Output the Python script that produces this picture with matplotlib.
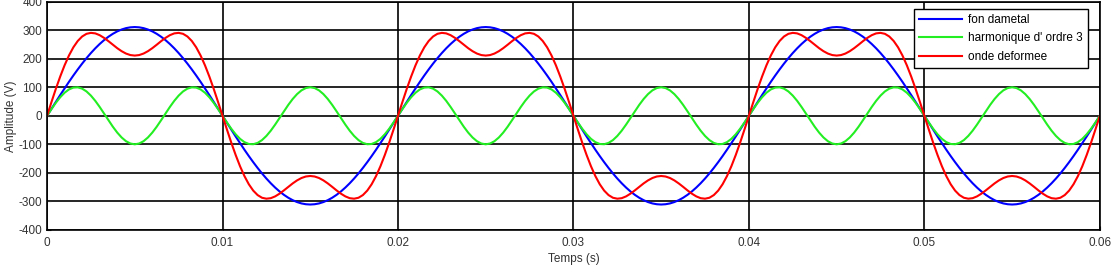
#!/usr/bin/env python3
import numpy as np
import matplotlib
matplotlib.use("Agg")
import matplotlib.pyplot as plt

PERIOD_S = 0.02
N_PERIODS = 3

fondamental = [
    0, 24.4, 48.7, 72.6, 96.1, 119.0, 141.2, 162.5, 182.8, 202.0,
    219.9, 236.5, 251.6, 265.2, 277.1, 287.3, 295.8, 302.4, 307.2, 310.0,
    311.0, 310.0, 307.2, 302.4, 295.8, 287.3, 277.1, 265.2, 251.6, 236.5,
    219.9, 202.0, 182.8, 162.5, 141.2, 119.0, 96.1, 72.6, 48.7, 24.4,
    0, -24.4, -48.7, -72.6, -96.1, -119.0, -141.2, -162.5, -182.8, -202.0,
    -219.9, -236.5, -251.6, -265.2, -277.1, -287.3, -295.8, -302.4, -307.2, -310.0,
    -311.0, -310.0, -307.2, -302.4, -295.8, -287.3, -277.1, -265.2, -251.6, -236.5,
    -219.9, -202.0, -182.8, -162.5, -141.2, -119.0, -96.1, -72.6, -48.7, -24.4,
]

harmonique3 = [
    0, 23.3, 45.4, 64.9, 80.9, 92.4, 98.8, 99.7, 95.1, 85.3,
    70.7, 52.3, 30.9, 7.8, -15.6, -38.3, -58.8, -76.0, -89.1, -97.2,
    -100.0, -97.2, -89.1, -76.0, -58.8, -38.3, -15.6, 7.8, 30.9, 52.3,
    70.7, 85.3, 95.1, 99.7, 98.8, 92.4, 80.9, 64.9, 45.4, 23.3,
    0, -23.3, -45.4, -64.9, -80.9, -92.4, -98.8, -99.7, -95.1, -85.3,
    -70.7, -52.3, -30.9, -7.8, 15.6, 38.3, 58.8, 76.0, 89.1, 97.2,
    100.0, 97.2, 89.1, 76.0, 58.8, 38.3, 15.6, -7.8, -30.9, -52.3,
    -70.7, -85.3, -95.1, -99.7, -98.8, -92.4, -80.9, -64.9, -45.4, -23.3,
]

onde_deformee = [
    0, 47.7, 94.1, 137.5, 177.0, 211.4, 240.0, 262.2, 277.9, 287.3,
    290.6, 288.8, 282.5, 273.0, 261.5, 249.0, 237.0, 226.4, 218.1, 212.8,
    211.0, 212.8, 218.1, 226.4, 237.0, 249.0, 261.5, 273.0, 282.5, 288.8,
    290.6, 287.3, 277.9, 262.2, 240.0, 211.4, 177.0, 137.5, 94.1, 47.7,
    0, -47.7, -94.1, -137.5, -177.0, -211.4, -240.0, -262.2, -277.9, -287.3,
    -290.6, -288.8, -282.5, -273.0, -261.5, -249.0, -237.0, -226.4, -218.1, -212.8,
    -211.0, -212.8, -218.1, -226.4, -237.0, -249.0, -261.5, -273.0, -282.5, -288.8,
    -290.6, -287.3, -277.9, -262.2, -240.0, -211.4, -177.0, -137.5, -94.1, -47.7,
]

labels = ["fon dametal", "harmonique d' ordre 3", "onde deformee"]
x_ticks = [0, 0.01, 0.02, 0.03, 0.04, 0.05, 0.06]
y_ticks = [-400, -300, -200, -100, 0, 100, 200, 300, 400]


def repeat(period):
    return np.append(np.tile(period, N_PERIODS), period[0])


def main():
    plt.rcParams["font.family"] = ["Liberation Sans", "DejaVu Sans"]
    plt.rcParams["axes.unicode_minus"] = False
    n = len(fondamental)
    t = np.arange(n * N_PERIODS + 1) * (PERIOD_S / n)

    fig = plt.figure(figsize=(11.2, 2.76), dpi=100)
    ax = fig.add_axes([0.042, 0.167, 0.940, 0.827])

    ax.plot(t, repeat(fondamental), color="#0000ff", lw=1.5, label=labels[0])
    ax.plot(t, repeat(harmonique3), color="#22ee22", lw=1.5, label=labels[1])
    ax.plot(t, repeat(onde_deformee), color="#ff0000", lw=1.5, label=labels[2])

    ax.set_xlim(0, 0.06)
    ax.set_ylim(-400, 400)
    ax.set_xticks(x_ticks)
    ax.set_xticklabels([f"{v:g}" for v in x_ticks])
    ax.set_yticks(y_ticks)
    ax.set_yticklabels([str(v) for v in y_ticks])
    ax.grid(True, color="black", lw=1.2)
    ax.set_axisbelow(True)
    ax.tick_params(labelsize=8.5, colors="#333333", direction="in", length=3)
    ax.tick_params(axis="x", pad=5)
    for s in ax.spines.values():
        s.set_linewidth(1.2)
    ax.set_xlabel("Temps (s)", fontsize=8.5, color="#333333", labelpad=3)
    ax.set_ylabel("Amplitude (V)", fontsize=8.5, color="#333333", labelpad=1)

    leg = ax.legend(loc="upper right", bbox_to_anchor=(0.9885, 0.97), fontsize=8.5,
                    fancybox=False, framealpha=1, edgecolor="black",
                    handlelength=3.6, handletextpad=0.5, borderpad=0.45,
                    labelspacing=0.55, borderaxespad=0)
    leg.get_frame().set_linewidth(1.0)

    fig.savefig("out.png", dpi=100)
    plt.close(fig)


if __name__ == "__main__":
    main()
